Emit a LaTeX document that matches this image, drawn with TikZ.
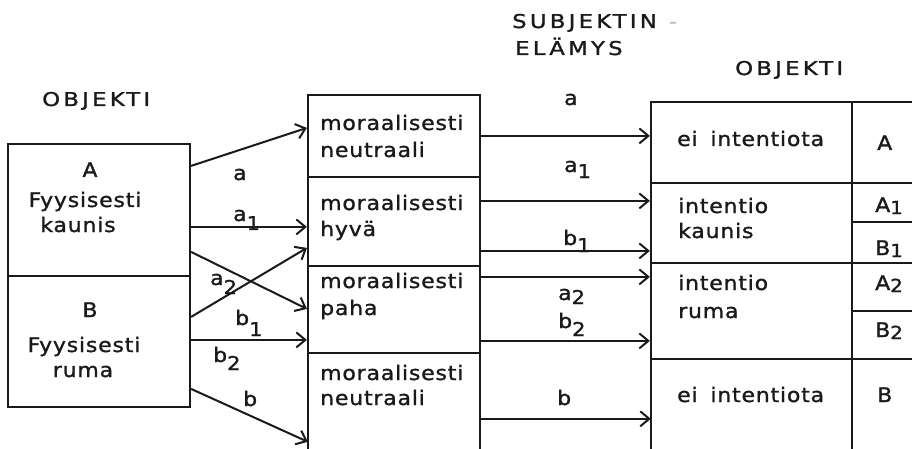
\documentclass[tikz,border=0pt]{standalone}
\usepackage{fontspec}
\setmainfont{DejaVu Sans}
\newfontfamily\lcf[FakeStretch=1.1,LetterSpace=4,FakeBold=1.3]{DejaVu Sans}
\newfontfamily\ucf[FakeStretch=1.2,LetterSpace=17,FakeBold=1.3]{DejaVu Sans}
\usetikzlibrary{arrows.meta,fit}
\definecolor{ink}{HTML}{1A1A1A}
\newcommand\lowd[2]{\raisebox{#2}{\fontsize{19}{19}\selectfont #1}}
\newcommand\capd[1]{\raisebox{-2pt}{\fontsize{18}{18}\selectfont #1}}
\tikzset{
  box/.style={draw=ink, line width=2.2pt, inner sep=0pt},
  area/.style={inner sep=0pt},
  edge/.style={draw=ink, line width=2.2pt},
  arr/.style={draw=ink, line width=2pt, -{Straight Barb[length=9pt,width=15pt,line width=2pt]}},
  lc/.style={font=\lcf\fontsize{20}{24}\selectfont, text=ink, inner sep=0pt, anchor=base west},
  lcc/.style={lc, anchor=base},
  uc/.style={font=\ucf\fontsize{19}{23}\selectfont, text=ink, inner sep=0pt, anchor=base west},
}
\begin{document}
\begin{tikzpicture}[x=1pt,y=-1pt]
\useasboundingbox[fill=white] (0,0) rectangle (912,449);

% headings
\node[uc] (st1) at (512,28) {SUBJEKTIN\hspace{12pt}\textcolor{gray!50}{-}};
\node[uc] (st2) at (515,55) {ELÄMYS};
\node[uc] (ob1) at (42,106) {OBJEKTI};
\node[uc] (ob2) at (735,75) {OBJEKTI};

% left box
\node[box, fit={(8,144) (190,276)}] (LA) {};
\node[box, fit={(8,276) (190,407)}] (LB) {};
\node[lcc] (la1) at (90,177) {A};
\node[lcc] (la2) at (85,207) {Fyysisesti};
\node[lcc] (la3) at (78,232) {kaunis};
\node[lcc] (lb1) at (90,317) {B};
\node[lcc] (lb2) at (84,352) {Fyysisesti};
\node[lcc] (lb3) at (83,377) {ruma};

% middle boxes
\node[box, fit={(308,95) (480,177)}] (M1) {};
\node[box, fit={(308,177) (480,266)}] (M2) {};
\node[box, fit={(308,266) (480,353)}] (M3) {};
\node[area, fit={(308,353) (480,449)}] (M4) {};
\draw[edge] (M4.north west) -- (M4.south west);
\draw[edge] (M4.north east) -- (M4.south east);
\node[lc] (m11) at (320,130) {moraalisesti};
\node[lc] (m12) at (320,157) {neutraali};
\node[lc] (m21) at (320,210) {moraalisesti};
\node[lc] (m22) at (320,236) {hyvä};
\node[lc] (m31) at (320,288) {moraalisesti};
\node[lc] (m32) at (320,315) {paha};
\node[lc] (m41) at (320,380) {moraalisesti};
\node[lc] (m42) at (320,405) {neutraali};

% right boxes
\node[box, fit={(651,102) (852,183)}] (R1) {};
\node[box, fit={(651,183) (852,263)}] (R2) {};
\node[box, fit={(651,263) (852,359)}] (R3) {};
\node[area, fit={(651,359) (852,449)}] (R4) {};
\draw[edge] (R4.south west) -- (R4.north west) -- (R4.north east) -- (R4.south east);
\node[lc] (r11) at (677,146) {ei\hspace{5pt} intentiota};
\node[lc] (r21) at (678,213) {intentio};
\node[lc] (r22) at (678,238) {kaunis};
\node[lc] (r31) at (678,290) {intentio};
\node[lc] (r32) at (678,318) {ruma};
\node[lc] (r41) at (677,402) {ei\hspace{5pt} intentiota};

% right column
\node[area, fit={(852,102) (912,183)}] (C1) {};
\node[area, fit={(852,183) (912,222)}] (C2) {};
\node[area, fit={(852,222) (912,263)}] (C3) {};
\node[area, fit={(852,263) (912,311)}] (C4) {};
\node[area, fit={(852,311) (912,359)}] (C5) {};
\node[area, fit={(852,359) (912,449)}] (C6) {};
\foreach \c in {C1,C2,C3,C4,C5,C6} \draw[edge] (\c.north west) -- (\c.north east);
\node[lc] (c1) at (877,150) {A};
\node[lc] (c2) at (875,212) {A\capd{1}};
\node[lc] (c3) at (875,255) {B\capd{1}};
\node[lc] (c4) at (875,290) {A\capd{2}};
\node[lc] (c5) at (875,337) {B\capd{2}};
\node[lc] (c6) at (877,402) {B};

% arrows left -> middle
\draw[arr] ([yshift=-23pt]LA.north east) -- ([yshift=-34pt]M1.north west);
\draw[arr] ([yshift=-84pt]LA.north east) -- ([yshift=-51pt]M2.north west);
\draw[arr] ([yshift=-109pt]LA.north east) -- ([yshift=-44pt]M3.north west);
\draw[arr] ([yshift=-42pt]LB.north east) -- ([yshift=-72pt]M2.north west);
\draw[arr] ([yshift=-65pt]LB.north east) -- ([yshift=-75pt]M3.north west);
\draw[arr] ([yshift=-114pt]LB.north east) -- ([yshift=-89pt]M4.north west);

% arrows middle -> right
\draw[arr] ([yshift=-42pt]M1.north east) -- ([yshift=-35pt]R1.north west);
\draw[arr] ([yshift=-25pt]M2.north east) -- ([yshift=-19pt]R2.north west);
\draw[arr] ([yshift=-75pt]M2.north east) -- ([yshift=-69pt]R2.north west);
\draw[arr] ([yshift=-12pt]M3.north east) -- ([yshift=-15pt]R3.north west);
\draw[arr] ([yshift=-76pt]M3.north east) -- ([yshift=-79pt]R3.north west);
\draw[arr] ([yshift=-66pt]M4.north east) -- ([yshift=-60pt]R4.north west);

% arrow labels left
\node[lc] (l1) at (233,180) {a};
\node[lc] (l2) at (233,221) {a\lowd{1}{-9pt}};
\node[lc] (l3) at (210,285) {a\lowd{2}{-9pt}};
\node[lc] (l4) at (235,325) {b\lowd{1}{-11pt}};
\node[lc] (l5) at (213,362) {b\lowd{2}{-8pt}};
\node[lc] (l6) at (243,406) {b};

% arrow labels middle
\node[lc] (n1) at (564,105) {a};
\node[lc] (n2) at (564,172) {a\lowd{1}{-6pt}};
\node[lc] (n3) at (563,245) {b\lowd{1}{-7pt}};
\node[lc] (n4) at (558,300) {a\lowd{2}{-4pt}};
\node[lc] (n5) at (558,328) {b\lowd{2}{-8pt}};
\node[lc] (n6) at (557,405) {b};
\end{tikzpicture}
\end{document}
